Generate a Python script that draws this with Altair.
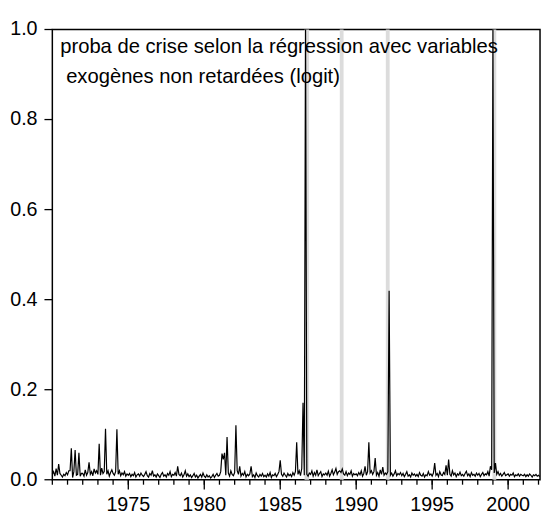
import altair as alt
import pandas as pd

# Monthly probability of crisis, Jan 1970 .. Feb 2002
p1970s = [
    0.012, 0.018, 0.008, 0.025, 0.010, 0.035, 0.014, 0.010, 0.006, 0.012, 0.009, 0.016,
    0.011, 0.020, 0.020, 0.070, 0.005, 0.018, 0.066, 0.010, 0.012, 0.060, 0.008, 0.014,
    0.014, 0.008, 0.022, 0.010, 0.016, 0.039, 0.012, 0.018, 0.009, 0.024, 0.015, 0.020,
    0.012, 0.080, 0.010, 0.026, 0.014, 0.018, 0.113, 0.012, 0.020, 0.008, 0.016, 0.022,
    0.014, 0.010, 0.018, 0.112, 0.012, 0.020, 0.009, 0.015, 0.011, 0.018, 0.008, 0.013,
    0.010, 0.014, 0.007, 0.012, 0.009, 0.016, 0.006, 0.011, 0.013, 0.008, 0.015, 0.010,
    0.007, 0.012, 0.018, 0.009, 0.006, 0.014, 0.010, 0.020, 0.008, 0.011, 0.006, 0.013,
    0.009, 0.005, 0.012, 0.016, 0.008, 0.011, 0.006, 0.014, 0.010, 0.018, 0.007, 0.012,
    0.010, 0.016, 0.008, 0.030, 0.012, 0.009, 0.015, 0.006, 0.011, 0.020, 0.008, 0.013,
    0.007, 0.011, 0.005, 0.009, 0.014, 0.006, 0.010, 0.004, 0.008, 0.012, 0.006, 0.015,
]
p1980s = [
    0.008, 0.005, 0.011, 0.006, 0.009, 0.004, 0.007, 0.012, 0.005, 0.010, 0.014, 0.008,
    0.010, 0.018, 0.058, 0.045, 0.060, 0.010, 0.095, 0.015, 0.008, 0.020, 0.012, 0.009,
    0.016, 0.121, 0.020, 0.012, 0.030, 0.008, 0.014, 0.010, 0.018, 0.006, 0.012, 0.009,
    0.013, 0.030, 0.007, 0.011, 0.005, 0.015, 0.009, 0.006, 0.012, 0.008, 0.014, 0.007,
    0.010, 0.006, 0.013, 0.008, 0.016, 0.005, 0.011, 0.009, 0.014, 0.007, 0.012, 0.018,
    0.043, 0.012, 0.008, 0.015, 0.010, 0.006, 0.014, 0.009, 0.012, 0.007, 0.016, 0.010,
    0.018, 0.083, 0.012, 0.020, 0.009, 0.025, 0.171, 0.010, 1.000, 0.012, 0.008, 0.015,
    0.012, 0.020, 0.008, 0.016, 0.010, 0.022, 0.009, 0.014, 0.018, 0.007, 0.013, 0.011,
    0.015, 0.010, 0.019, 0.008, 0.014, 0.022, 0.011, 0.017, 0.025, 0.012, 0.018, 0.020,
    0.016, 0.024, 0.013, 0.010, 0.018, 0.009, 0.015, 0.012, 0.020, 0.008, 0.014, 0.011,
]
p1990s = [
    0.013, 0.009, 0.016, 0.011, 0.020, 0.008, 0.014, 0.030, 0.010, 0.018, 0.083, 0.015,
    0.020, 0.012, 0.018, 0.048, 0.010, 0.016, 0.008, 0.022, 0.012, 0.028, 0.010, 0.015,
    0.012, 0.018, 0.420, 0.010, 0.015, 0.008, 0.013, 0.020, 0.009, 0.014, 0.011, 0.016,
    0.009, 0.014, 0.007, 0.012, 0.018, 0.008, 0.011, 0.006, 0.015, 0.010, 0.013, 0.008,
    0.012, 0.007, 0.016, 0.010, 0.008, 0.014, 0.006, 0.011, 0.009, 0.018, 0.010, 0.013,
    0.008, 0.015, 0.037, 0.010, 0.014, 0.007, 0.018, 0.011, 0.009, 0.016, 0.012, 0.032,
    0.010, 0.045, 0.012, 0.008, 0.020, 0.011, 0.015, 0.007, 0.013, 0.010, 0.017, 0.009,
    0.012, 0.008, 0.014, 0.019, 0.009, 0.013, 0.007, 0.016, 0.010, 0.012, 0.008, 0.015,
    0.010, 0.014, 0.007, 0.012, 0.016, 0.009, 0.013, 0.011, 0.018, 0.008, 0.030, 0.022,
    1.000, 0.015, 0.037, 0.012, 0.018, 0.010, 0.014, 0.008, 0.012, 0.016, 0.009, 0.011,
]
p2000s = [
    0.013, 0.008, 0.012, 0.010, 0.015, 0.007, 0.011, 0.009, 0.013, 0.008, 0.012, 0.010,
    0.009, 0.012, 0.007, 0.011, 0.008, 0.013, 0.010, 0.006, 0.011, 0.009, 0.012, 0.008,
    0.010, 0.007,
]

# Crisis periods (shaded), as fractional years
band_start = [1986.60, 1988.92, 1991.95, 1998.97]
band_end = [1986.90, 1989.17, 1992.20, 1999.22]

year_ticks = list(range(1970, 2003))
year_labels = [1975, 1980, 1985, 1990, 1995, 2000]
y_ticks = [0.0, 0.2, 0.4, 0.6, 0.8, 1.0]
title_lines = ["proba de crise selon la régression avec variables",
               "exogènes non retardées (logit)"]

values = p1970s + p1980s + p1990s + p2000s
df = pd.DataFrame({
    "t": [1970 + i / 12 for i in range(len(values))],
    "p": values,
})
bands = pd.DataFrame({"start": band_start, "end": band_end})
minor = pd.DataFrame({"yr": year_ticks})
major = pd.DataFrame({"yr": year_labels, "lab": [str(y) for y in year_labels]})
yt = pd.DataFrame({"v": y_ticks, "lab": [f"{v:.1f}" for v in y_ticks]})

FONT = "Liberation Sans"
FS = 20
W, H = 495, 457

xscale = alt.Scale(domain=[1970.0, 2002.1], nice=False, zero=False)
yscale = alt.Scale(domain=[0, 1], nice=False, zero=False)

band_layer = alt.Chart(bands).mark_rect(color="#DCDCDC").encode(
    x=alt.X("start:Q", scale=xscale, axis=None),
    x2="end:Q",
    y=alt.value(0),
    y2=alt.value(H),
)

line_layer = alt.Chart(df).mark_line(color="black", strokeWidth=1.2).encode(
    x=alt.X("t:Q", scale=xscale, axis=None),
    y=alt.Y("p:Q", scale=yscale, axis=None),
)

# x axis: minor yearly ticks, major 5-year ticks and labels
minor_ticks = alt.Chart(minor).mark_rule(color="black", strokeWidth=1.3).encode(
    x=alt.X("yr:Q", scale=xscale, axis=None),
    y=alt.value(H),
    y2=alt.value(H + 5),
)
major_ticks = alt.Chart(major).mark_rule(color="black", strokeWidth=1.3).encode(
    x=alt.X("yr:Q", scale=xscale, axis=None),
    y=alt.value(H),
    y2=alt.value(H + 10),
)
x_labels = alt.Chart(major).mark_text(
    font=FONT, fontSize=FS, color="black", align="center", baseline="top"
).encode(
    x=alt.X("yr:Q", scale=xscale, axis=None),
    y=alt.value(H + 16),
    text="lab:N",
)

# y axis: ticks and labels
y_tick_marks = alt.Chart(yt).mark_rule(color="black", strokeWidth=1.3).encode(
    y=alt.Y("v:Q", scale=yscale, axis=None),
    x=alt.value(-8),
    x2=alt.value(0),
)
y_labels = alt.Chart(yt).mark_text(
    font=FONT, fontSize=FS, color="black", align="right", baseline="middle"
).encode(
    y=alt.Y("v:Q", scale=yscale, axis=None),
    x=alt.value(-15),
    text="lab:N",
)

text1 = alt.Chart(pd.DataFrame({"s": [title_lines[0]]})).mark_text(
    align="left", baseline="alphabetic", font=FONT, fontSize=20.5, color="black"
).encode(text="s:N", x=alt.value(8), y=alt.value(24))

text2 = alt.Chart(pd.DataFrame({"s": [title_lines[1]]})).mark_text(
    align="left", baseline="alphabetic", font=FONT, fontSize=20.5, color="black"
).encode(text="s:N", x=alt.value(14), y=alt.value(54))

chart = alt.layer(
    band_layer, line_layer, minor_ticks, major_ticks, x_labels,
    y_tick_marks, y_labels, text1, text2
).properties(
    width=W, height=H,
    background="white",
    autosize=alt.AutoSizeParams(type="none"),
    padding={"left": 45, "top": 18, "right": 2, "bottom": 36},
).configure_view(
    stroke="black", strokeWidth=1.5
)

chart.save("out.html", embed_options={"renderer": "svg", "actions": False})
